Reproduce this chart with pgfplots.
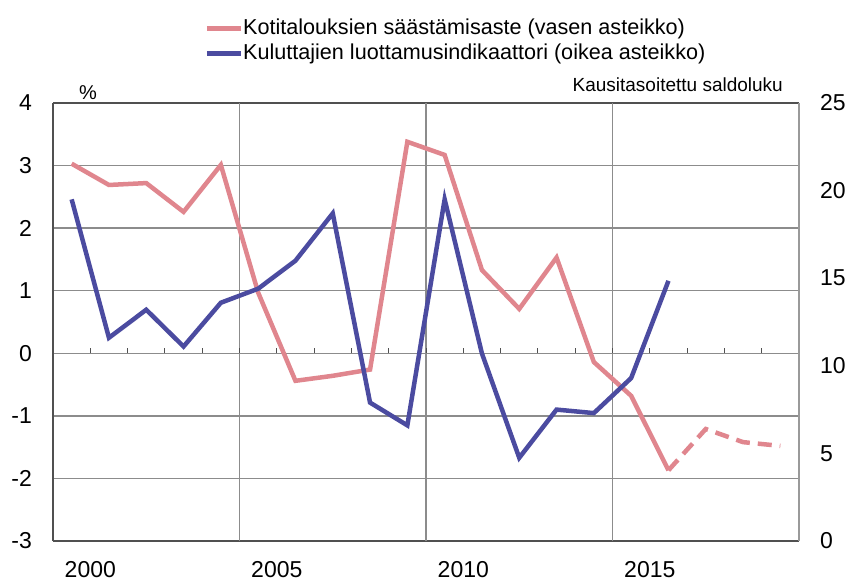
\documentclass[border=0pt]{standalone}
\usepackage{pgfplots}
\pgfplotsset{compat=1.18}
\usepackage{fontspec}
\setmainfont{Liberation Sans}
\definecolor{redl}{HTML}{E0868E}
\definecolor{bluel}{HTML}{4B4BA0}
\definecolor{gridc}{HTML}{8C8C8C}
\definecolor{framec}{HTML}{505050}
\definecolor{rframe}{HTML}{9A9A9A}

\begin{document}
\begin{tikzpicture}
\useasboundingbox (-53bp,-41bp) rectangle (797bp,541bp);
\pgfplotsset{
  base/.style={at={(0,0)}, anchor=south west, scale only axis,
    width=746bp, height=438bp, xmin=-0.5, xmax=19.5,
    /pgf/number format/assume math mode=true,
    tick label style={font=\fontsize{23bp}{27bp}\selectfont},
    major tick length=0pt},
}
\begin{axis}[base, ymin=-3, ymax=4, ytick={-3,...,4},
  axis y line*=left,
  xtick={0.5,5.5,10.5,15.5}, xticklabels={2000,2005,2010,2015},
  extra x ticks={4.5,9.5,14.5}, extra x tick labels={},
  extra x tick style={grid=major},
  ymajorgrids, grid style={gridc, line width=1.3bp},
  axis line style={framec, line width=1.8bp},
  xticklabel style={anchor=north, inner sep=0pt, yshift=-20.5bp},
  yticklabel style={anchor=east, inner sep=0pt, xshift=-21bp}]
\addplot[redl, line width=4.5bp] coordinates {
(0,3.03) (1,2.69) (2,2.72) (3,2.26) (4,3.01) (5,0.97) (6,-0.44) (7,-0.36)
(8,-0.26) (9,3.38) (10,3.17) (11,1.33) (12,0.71) (13,1.53) (14,-0.14)
(15,-0.68) (16,-1.87)};
\addplot[redl, line width=4.5bp, dash pattern=on 14bp off 8bp] coordinates {
(16,-1.87) (17,-1.21) (18,-1.42) (19,-1.48)};
\end{axis}

% small ticks standing up on the zero line
\begin{axis}[at={(0,187.714bp)}, anchor=south west, scale only axis,
  width=746bp, height=10bp, xmin=-0.5, xmax=19.5, ymin=0, ymax=1,
  axis x line*=bottom, axis y line=none,
  x axis line style={draw=none},
  xtick={0.5,1.5,...,18.5}, xticklabels={}, major tick length=5bp,
  tick align=inside, tick style={framec, line width=1bp}]
\end{axis}

\begin{axis}[base, ymin=0, ymax=25, ytick={0,5,...,25},
  axis x line=none, axis y line*=right,
  y axis line style={rframe, line width=1.8bp},
  yticklabel style={anchor=west, inner sep=0pt, xshift=21bp},
  legend style={draw=none, fill=none,
    at={(axis description cs:0.2030,1.1990)}, anchor=north west,
    inner sep=0pt, row sep=0pt,
    font=\fontsize{21.6bp}{25bp}\selectfont,
    nodes={inner xsep=0bp, inner ysep=2bp, text height=16bp, text depth=5bp}},
  legend cell align=left,
  legend image code/.code={\draw[#1] (0bp,0bp) -- (34bp,0bp);}]
\addlegendimage{redl, line width=4.5bp}
\addlegendentry{Kotitalouksien säästämisaste (vasen asteikko)}
\addplot[bluel, line width=4.5bp] coordinates {
(0,19.5) (1,11.6) (2,13.2) (3,11.1) (4,13.6) (5,14.4) (6,16.0) (7,18.7)
(8,7.9) (9,6.6) (10,19.5) (11,10.7) (12,4.75) (13,7.5) (14,7.3) (15,9.3)
(16,14.85)};
\addlegendentry{Kuluttajien luottamusindikaattori (oikea asteikko)}
\end{axis}

\node[font=\fontsize{20bp}{24bp}\selectfont, inner sep=0pt] at (35bp,448bp) {\%};
\node[font=\fontsize{19bp}{23bp}\selectfont, anchor=east, inner sep=0pt] at (730bp,456bp) {Kausitasoitettu saldoluku};
\end{tikzpicture}
\end{document}
